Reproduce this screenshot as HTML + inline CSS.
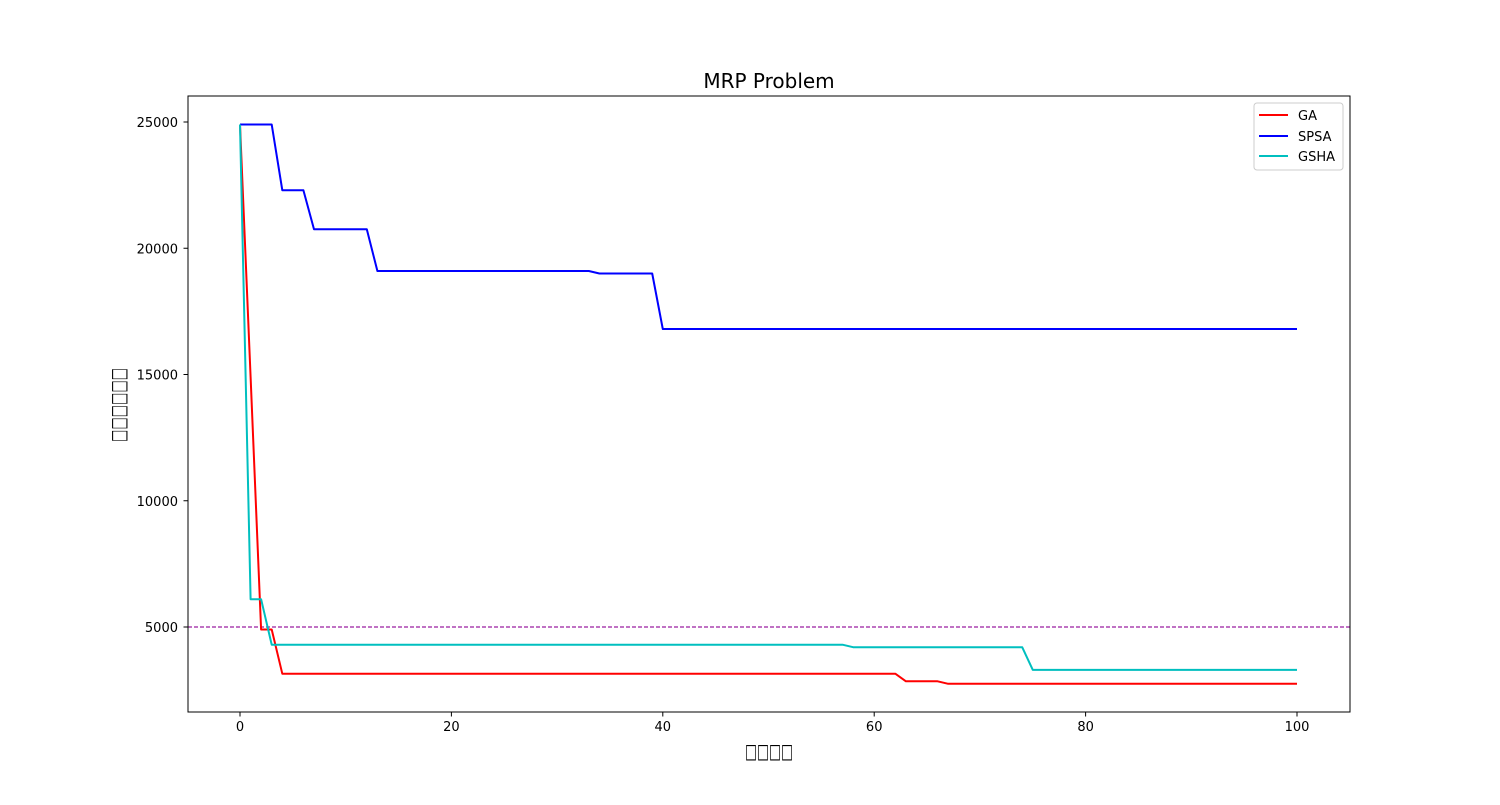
<!DOCTYPE html>
<html><head><meta charset="utf-8"><style>
body{margin:0;background:#fff;}
svg text{font-family:"DejaVu Sans","Liberation Sans",sans-serif;}
</style></head><body>
<svg id="chart" width="1500" height="800" xmlns="http://www.w3.org/2000/svg">
<rect width="1500" height="800" fill="#fff"/>
<text x="769" y="88" font-size="20" text-anchor="middle">MRP Problem</text>
<g id="plot"></g>
<rect x="188" y="96" width="1162" height="616" fill="none" stroke="#000" stroke-width="1"/>
<text x="745" y="758" font-size="20" textLength="48" lengthAdjust="spacingAndGlyphs">□□□□</text>
<text transform="translate(125,442) rotate(-90)" font-size="20" textLength="74" lengthAdjust="spacingAndGlyphs">□□□□□□</text>
<g>
<rect x="1254" y="103" width="89" height="67" rx="3" fill="#fff" stroke="#ccc"/>
<line x1="1259" y1="115" x2="1288" y2="115" stroke="#ff0000" stroke-width="2"/>
<text x="1298" y="120" font-size="13">GA</text>
<line x1="1259" y1="136" x2="1288" y2="136" stroke="#0000ff" stroke-width="2"/>
<text x="1298" y="141" font-size="13">SPSA</text>
<line x1="1259" y1="156" x2="1288" y2="156" stroke="#00bfbf" stroke-width="2"/>
<text x="1298" y="161" font-size="13">GSHA</text>
</g>
</svg>
<script>
const xTicks=[0,20,40,60,80,100];
const yTicks=[5000,10000,15000,20000,25000];
const refLine=5000;
const gaValues=[24900,14900,4900,3150,2850,2750];
const gaRuns=[1,1,2,59,4,34];
const spsaValues=[24900,22300,20750,19100,19000,16800];
const spsaRuns=[4,3,6,21,6,61];
const gshaValues=[24900,6100,4300,4200,3300];
const gshaRuns=[1,2,55,17,26];
function xs(v){return 240+(v-0)*(1297-240)/100;}
function ys(v){return 627-(v-5000)*0.02525;}
function expand(vals,runs){const out=[];vals.forEach((v,i)=>{for(let k=0;k<runs[i];k++)out.push(v);});return out;}
const NS="http://www.w3.org/2000/svg";
const g=document.getElementById('plot');
function mk(t,a){const e=document.createElementNS(NS,t);for(const k in a)e.setAttribute(k,a[k]);g.appendChild(e);return e;}
xTicks.forEach(t=>{
  const l=mk('line',{x1:xs(t),x2:xs(t),y1:712,y2:716.5,stroke:'#000'});
  
  
  const tx=mk('text',{x:xs(t),y:731,'font-size':13,'text-anchor':'middle'});tx.textContent=t;
  
  
});
yTicks.forEach(t=>{
  const l=mk('line',{x1:183.5,x2:188,y1:ys(t),y2:ys(t),stroke:'#000'});
  
  
  const tx=mk('text',{x:178,y:ys(t)+5,'font-size':13,'text-anchor':'end'});tx.textContent=t;
  
  
});
const rl=mk('line',{x1:188,x2:1350,y1:ys(refLine),y2:ys(refLine),stroke:'#9a1fa0','stroke-width':1.2,'stroke-dasharray':'4,2'});


function series(vals,runs,color,name){
  const d=expand(vals,runs);
  const pts=d.map((v,i)=>xs(i).toFixed(1)+','+ys(v).toFixed(1)).join(' ');
  const p=mk('polyline',{points:pts,fill:'none',stroke:color,'stroke-width':2,'stroke-linejoin':'round'});
  
  
}
series(gaValues,gaRuns,'#ff0000','ga-line');
series(spsaValues,spsaRuns,'#0000ff','spsa-line');
series(gshaValues,gshaRuns,'#00bfbf','gsha-line');
</script>
</body></html>
